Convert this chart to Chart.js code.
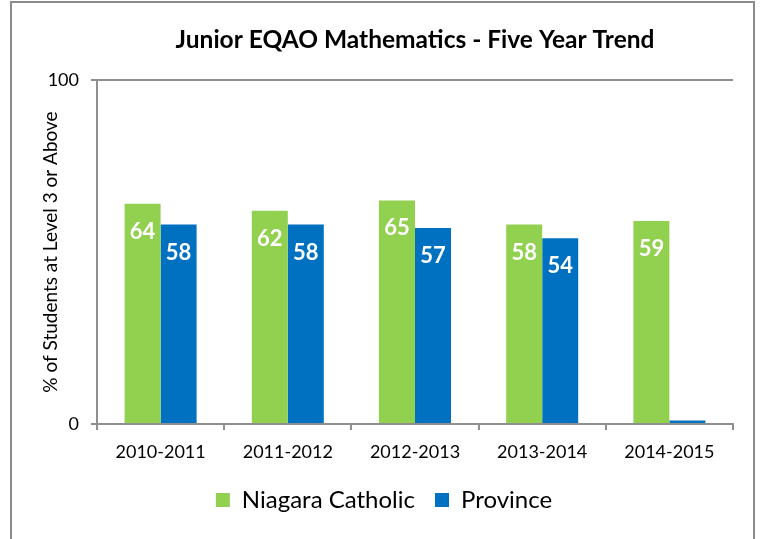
<!DOCTYPE html>
<html>
<head>
<meta charset="utf-8">
<script src="https://cdn.jsdelivr.net/npm/chart.js@4"></script>
<style>
  html, body { margin: 0; padding: 0; background: #fff; width: 762px; height: 539px; overflow: hidden; }
  #wrap { position: absolute; left: 0; top: 0; width: 762px; height: 539px; }
  #frame { position: absolute; left: 10px; top: 1px; width: 741px; height: 560px;
           border-left: 2px solid #8c8c8c; border-top: 2px solid #8c8c8c; border-right: 2px solid #8c8c8c;
           pointer-events: none; }
</style>
</head>
<body>
<div id="wrap"><canvas id="c" width="762" height="539"></canvas></div>
<div id="frame"></div>
<script>
const titleText = 'Junior EQAO Mathematics - Five Year Trend';
const yAxisTitle = '% of Students at Level 3 or Above';
const categories = ['2010-2011', '2011-2012', '2012-2013', '2013-2014', '2014-2015'];
const seriesNames = ['Niagara Catholic', 'Province'];
const niagaraCatholic = [64, 62, 65, 58, 59];
const province = [58, 58, 57, 54, 1];
const yTicks = [0, 100];

const FONT = 'Lato, "Open Sans", "Liberation Sans", sans-serif';
const GREEN = '#92D050';
const BLUE = '#0070C0';
const AXIS = '#8f8f8f';

const titlePlugin = {
  id: 'centerTitle',
  afterDraw(chart) {
    const ctx = chart.ctx, a = chart.chartArea;
    ctx.save();
    ctx.font = 'bold 24.5px ' + FONT;
    ctx.fillStyle = '#000';
    ctx.textAlign = 'center';
    ctx.textBaseline = 'alphabetic';
    ctx.fillText(titleText, (a.left + a.right) / 2, 48);
    ctx.restore();
  }
};

const valueLabels = {
  id: 'valueLabels',
  afterDatasetsDraw(chart) {
    const ctx = chart.ctx;
    ctx.save();
    ctx.font = 'bold 22px ' + FONT;
    ctx.fillStyle = '#fff';
    ctx.textAlign = 'center';
    ctx.textBaseline = 'middle';
    chart.data.datasets.forEach((ds, di) => {
      const meta = chart.getDatasetMeta(di);
      meta.data.forEach((el, i) => {
        const v = ds.data[i];
        if (v >= 5) ctx.fillText(String(v), el.x, el.y + 28);
      });
    });
    ctx.restore();
  }
};

new Chart(document.getElementById('c'), {
  type: 'bar',
  data: {
    labels: categories,
    datasets: [
      { label: seriesNames[0], data: niagaraCatholic, backgroundColor: GREEN, borderWidth: 0 },
      { label: seriesNames[1], data: province, backgroundColor: BLUE, borderWidth: 0 }
    ]
  },
  options: {
    responsive: false,
    animation: false,
    devicePixelRatio: 1,
    categoryPercentage: 0.566,
    barPercentage: 1.0,
    layout: { padding: { left: 35, right: 29, top: 80, bottom: 17 } },
    plugins: {
      title: { display: false },
      tooltip: { enabled: false },
      legend: {
        display: true,
        position: 'bottom',
        labels: {
          font: { family: FONT, size: 24 },
          color: '#000',
          boxWidth: 14,
          boxHeight: 14,
          padding: 20,
          generateLabels(chart) {
            return chart.data.datasets.map((ds, i) => ({
              text: ds.label, fillStyle: ds.backgroundColor, strokeStyle: ds.backgroundColor,
              lineWidth: 0, datasetIndex: i, fontColor: '#000'
            }));
          }
        }
      }
    },
    scales: {
      x: {
        afterFit(scale) { scale.height = 44; },
        grid: { display: true, drawOnChartArea: false, offset: true, tickLength: 6, color: AXIS, lineWidth: 2 },
        border: { display: true, color: AXIS, width: 2 },
        ticks: { font: { family: FONT, size: 18 }, color: '#000', padding: 11, maxRotation: 0 }
      },
      y: {
        min: yTicks[0],
        max: yTicks[yTicks.length - 1],
        afterFit(scale) { scale.width = 62; },
        afterBuildTicks(scale) { scale.ticks = yTicks.map(v => ({ value: v })); },
        grid: { display: true, drawOnChartArea: true, tickLength: 6, color: AXIS, lineWidth: 2 },
        border: { display: true, color: AXIS, width: 2 },
        ticks: { font: { family: FONT, size: 18 }, color: '#000', padding: 12 },
        title: { display: true, text: yAxisTitle, font: { family: FONT, size: 19 }, color: '#000', padding: 4 }
      }
    }
  },
  plugins: [titlePlugin, valueLabels]
});
</script>
</body>
</html>
